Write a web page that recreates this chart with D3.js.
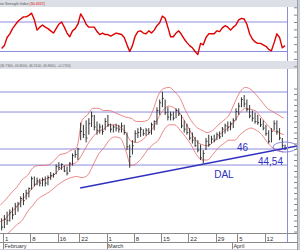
<!doctype html>
<html lang="en">
<head>
<meta charset="utf-8">
<title>DAL</title>
<script src="https://cdn.jsdelivr.net/npm/d3@7"></script>
<style>
  body { margin: 0; background: #fff; }
  svg { display: block; font-family: "Liberation Sans", Arial, sans-serif; }
</style>
</head>
<body>
<svg width="300" height="250" id="chart"></svg>
<script>
    // header texts
    const rsiTitle = "ive Strength Index";
    const rsiLast = "(30.4557)";
    const quoteText = "(46.7300, 46.8000, 46.3100, 46.8600, +0.1700)";

    // trading day index of each week / month start
    const weekTicks = [[0, "1"], [5, "8"], [10, "16"], [14, "22"], [19, "1"], [24, "8"],
        [29, "15"], [34, "22"], [39, "29"], [43, "5"], [48, "12"]];
    const monthTicks = [[0, "February"], [19, "March"], [42, "April"]];

    // half-day bars, first one is the last half of the previous day
    const rsiValues = [34, 38, 49, 54, 61, 66, 71, 74, 77, 77, 79, 82, 73, 59, 63, 66, 63, 61, 58, 55,
        61, 67, 70, 63, 55, 50, 58, 61, 67, 81, 75, 67, 63, 63, 63, 57, 53, 55, 53, 53,
        51, 53, 55, 54, 53, 49, 39, 30, 38, 51, 57, 58, 55, 54, 58, 55, 59, 65, 69, 78,
        75, 63, 50, 50, 55, 58, 53, 47, 42, 38, 35, 30, 26, 41, 39, 49, 54, 54, 54, 58,
        57, 62, 65, 63, 59, 63, 66, 73, 75, 74, 67, 54, 47, 43, 41, 41, 39, 37, 33, 31,
        42, 54, 49, 35, 38];

    // [high, low, close]
    const bars = [
        [39.7, 38.6, 38.9], [40.0, 38.8, 39.6], [40.3, 39.1, 39.5], [40.5, 39.4, 40.2], [40.7, 39.6, 40.0],
        [41.1, 40.0, 40.8], [41.2, 40.3, 41.0], [41.7, 40.7, 41.5], [42.0, 40.9, 41.3], [42.3, 41.4, 42.0],
        [42.5, 41.6, 42.4], [43.5, 42.3, 43.3], [43.5, 42.6, 42.8], [43.4, 42.7, 43.1], [43.3, 42.6, 42.9],
        [43.4, 42.6, 43.2], [43.5, 42.6, 42.9], [43.6, 42.7, 43.4], [43.9, 43.2, 43.6], [43.8, 43.4, 43.7],
        [44.6, 43.7, 44.4], [44.8, 44.1, 44.3], [44.7, 44.1, 44.6], [44.5, 43.9, 44.0], [44.4, 43.6, 43.8],
        [44.8, 43.9, 44.7], [45.6, 44.5, 45.4], [45.9, 45.2, 45.5], [46.1, 45.0, 46.0], [48.4, 46.8, 47.6],
        [48.2, 47.0, 47.3], [48.6, 46.6, 47.0], [48.8, 47.3, 48.3], [49.4, 48.0, 49.0], [49.1, 47.7, 48.0],
        [48.5, 47.3, 47.7], [48.3, 47.4, 48.0], [48.2, 47.3, 47.6], [48.8, 47.7, 48.5], [49.1, 48.0, 48.2],
        [48.3, 47.5, 47.8], [48.2, 47.5, 48.0], [48.3, 47.6, 47.9], [48.2, 47.5, 47.8], [48.4, 47.5, 48.1],
        [48.2, 47.3, 47.5], [47.5, 45.9, 46.2], [46.4, 44.3, 45.3], [46.8, 45.5, 46.3], [47.7, 46.6, 47.4],
        [47.9, 47.0, 47.5], [48.0, 47.1, 47.8], [47.8, 47.2, 47.4], [47.9, 47.2, 47.7], [47.9, 47.3, 47.5],
        [48.4, 47.3, 48.2], [48.6, 47.7, 48.5], [49.8, 48.2, 49.5], [50.5, 49.1, 50.2], [51.2, 49.8, 50.6],
        [50.5, 49.1, 49.3], [49.8, 48.6, 48.9], [49.4, 48.6, 49.1], [49.4, 48.6, 48.8], [49.7, 48.8, 49.5],
        [49.7, 49.0, 49.2], [49.1, 47.9, 48.1], [48.6, 47.5, 47.8], [48.3, 47.3, 47.5], [47.9, 46.8, 47.0],
        [47.5, 46.5, 46.8], [47.1, 46.2, 46.3], [46.8, 45.7, 45.9], [46.4, 45.0, 45.2], [45.9, 44.7, 45.6],
        [47.0, 45.9, 46.7], [47.3, 46.2, 46.4], [47.2, 46.5, 46.9], [47.3, 46.6, 46.8], [47.5, 46.8, 47.3],
        [47.6, 46.9, 47.1], [48.0, 47.1, 47.8], [48.3, 47.4, 48.1], [48.5, 47.6, 48.0], [48.5, 47.7, 48.3],
        [48.8, 47.9, 48.6], [49.7, 48.6, 49.4], [50.2, 49.1, 49.9], [50.7, 49.8, 50.5], [50.9, 49.8, 50.1],
        [50.5, 49.4, 49.6], [50.0, 48.8, 49.0], [49.5, 48.5, 48.8], [49.3, 48.3, 48.5], [49.1, 48.2, 48.4],
        [48.8, 48.0, 48.2], [48.6, 47.7, 47.9], [48.2, 47.2, 47.4], [47.7, 46.5, 46.7], [47.9, 46.6, 47.6],
        [48.6, 47.7, 48.3], [48.6, 47.3, 47.6], [47.9, 46.8, 47.0], [47.0, 46.1, 46.3], [46.4, 45.9, 46.1]
    ];

    // bollinger bands, one point per day (first = previous day)
    const bandUpper = [40.9, 41.4, 42.0, 42.5, 43.2, 43.6, 44.3, 44.5, 44.5, 44.6, 45.0, 45.5, 45.6, 45.9, 46.1,
        48.6, 49.1, 49.7, 49.7, 49.5, 49.5, 49.3, 49.1, 48.9, 48.8, 48.5, 48.5, 48.6, 49.5, 50.9,
        51.5, 51.6, 51.2, 50.6, 49.5, 48.6, 48.0, 47.7, 47.5, 47.7, 48.2, 48.6, 49.1, 50.2, 51.2,
        51.6, 51.4, 50.9, 50.3, 49.7, 49.4, 49.1, 48.8];
    const bandMiddle = [39.4, 39.7, 40.3, 40.7, 41.4, 41.9, 42.5, 43.0, 43.2, 43.4, 43.7, 44.2, 44.5, 44.6, 44.8,
        45.5, 46.4, 47.1, 47.6, 47.8, 48.2, 48.2, 48.0, 47.5, 46.7, 46.6, 46.8, 47.3, 47.9, 48.8,
        49.6, 49.9, 49.7, 49.2, 48.4, 47.5, 46.7, 46.4, 46.3, 46.6, 47.2, 47.6, 48.0, 48.5, 49.3,
        49.7, 49.6, 49.4, 48.8, 48.2, 47.7, 47.5, 47.3];
    const bandLower = [37.9, 38.2, 38.6, 39.1, 39.5, 40.3, 40.9, 41.5, 41.8, 42.1, 42.5, 42.9, 43.2, 43.4, 43.5,
        43.4, 43.6, 44.5, 45.5, 46.1, 46.8, 47.1, 47.0, 45.9, 44.5, 44.7, 45.2, 45.9, 46.4, 46.8,
        47.7, 48.2, 48.2, 47.7, 47.1, 46.4, 45.5, 45.0, 45.0, 45.5, 46.1, 46.5, 46.8, 46.8, 47.3,
        47.7, 47.9, 47.7, 47.3, 46.6, 46.1, 45.9, 45.7];

    const rsiLevels = [70, 30];
    const priceLevels = [51.18, 49.36, 46, 44.54];
    const stripTicks = d3.range(38.5, 52, 0.5);
    const rsiStripTicks = [10, 20, 30, 40, 50, 60, 70, 80, 90];
    // [half-day position, price]
    const trendLine = [[28.3, 42.45], [107.9, 46.27]];
    const lastMark = [103.5, 46.18];

    const svg = d3.select("#chart");
    const W = 300, H = 250;
    const plotRight = 287, stripRight = 297;
    const rsiTop = 7, rsiBottom = 61, priceTop = 69, priceBottom = 233;
    const gridColor = "#8c8cdc";
    const annColor = "#3030c0";

    // x in half-day units
    const x = d3.scaleLinear().domain([0, 104]).range([3, 286.4]);
    const yRsi = d3.scaleLinear().domain([30, 70]).range([51.5, 22]);
    const yPrice = d3.scaleLinear().domain([38, 52]).range([237, 83]);

    const defs = svg.append("defs");
    defs.append("clipPath").attr("id", "clipRsi").append("rect")
        .attr("x", 0).attr("y", rsiTop).attr("width", plotRight).attr("height", rsiBottom - rsiTop);
    defs.append("clipPath").attr("id", "clipPrice").append("rect")
        .attr("x", 0).attr("y", priceTop).attr("width", plotRight).attr("height", priceBottom - priceTop);
    defs.append("clipPath").attr("id", "clipPriceWide").append("rect")
        .attr("x", 0).attr("y", priceTop).attr("width", stripRight).attr("height", priceBottom - priceTop);

    // background and gray strips
    svg.append("rect").attr("width", W).attr("height", H).attr("fill", "#fff");
    svg.append("rect").attr("x", 0).attr("y", 0).attr("width", W).attr("height", rsiTop).attr("fill", "#dcdfe5");
    svg.append("rect").attr("x", 0).attr("y", rsiBottom).attr("width", W).attr("height", priceTop - rsiBottom).attr("fill", "#dcdfe5");
    svg.append("rect").attr("x", 0).attr("y", 249).attr("width", W).attr("height", 1).attr("fill", "#c9cdd4");
    svg.append("rect").attr("x", stripRight).attr("y", 0).attr("width", W - stripRight).attr("height", H).attr("fill", "#c9cdd4");
    svg.append("line").attr("x1", stripRight + 0.5).attr("x2", stripRight + 0.5).attr("y1", 0).attr("y2", H)
        .attr("stroke", "#9a9ea6").attr("stroke-width", 1);

    svg.append("text").attr("x", -0.5).attr("y", 5).style("font-size", "3.6px").attr("fill", "#555")
        .text(rsiTitle)
        .append("tspan").attr("fill", "#d00").text(" " + rsiLast);
    svg.append("text").attr("x", -0.5).attr("y", 66.5).style("font-size", "3.4px").attr("fill", "#666")
        .text(quoteText);

    // RSI panel
    const gRsi = svg.append("g").attr("clip-path", "url(#clipRsi)");
    gRsi.selectAll(".rsiLevel").data(rsiLevels).enter().append("line")
        .attr("x1", 0).attr("x2", plotRight)
        .attr("y1", d => yRsi(d)).attr("y2", d => yRsi(d))
        .attr("stroke", gridColor).attr("stroke-width", 1);
    gRsi.append("path")
        .datum(rsiValues)
        .attr("fill", "none")
        .attr("stroke", "#e00000")
        .attr("stroke-width", 1.4)
        .attr("stroke-linejoin", "round")
        .attr("d", d3.line().x((d, i) => x(i - 0.5)).y(d => yRsi(d)));

    // price panel
    const gPrice = svg.append("g").attr("clip-path", "url(#clipPrice)");
    gPrice.selectAll(".priceLevel").data(priceLevels).enter().append("line")
        .attr("x1", 0).attr("x2", plotRight)
        .attr("y1", d => yPrice(d)).attr("y2", d => yPrice(d))
        .attr("stroke", gridColor).attr("stroke-width", 1);

    const bandLine = d3.line().x((d, i) => x(2 * i - 1)).y(d => yPrice(d)).curve(d3.curveMonotoneX);
    [bandUpper, bandMiddle, bandLower].forEach(band => {
        gPrice.append("path")
            .datum(band)
            .attr("fill", "none")
            .attr("stroke", "#e46a6a")
            .attr("stroke-width", 0.8)
            .attr("d", bandLine);
    });

    const bar = gPrice.selectAll(".bar").data(bars).enter().append("g");
    bar.append("line")
        .attr("x1", (d, i) => x(i - 0.5)).attr("x2", (d, i) => x(i - 0.5))
        .attr("y1", d => yPrice(d[0])).attr("y2", d => yPrice(d[1]))
        .attr("stroke", "#1c1c1c").attr("stroke-width", 0.9);
    bar.append("line")
        .attr("x1", (d, i) => x(i - 0.5)).attr("x2", (d, i) => x(i - 0.5) + 1.4)
        .attr("y1", d => yPrice(d[2])).attr("y2", d => yPrice(d[2]))
        .attr("stroke", "#1c1c1c").attr("stroke-width", 0.8);

    // annotations
    const gAnn = svg.append("g").attr("clip-path", "url(#clipPriceWide)");
    gAnn.append("path")
        .datum(trendLine)
        .attr("fill", "none")
        .attr("stroke", annColor)
        .attr("stroke-width", 1.5)
        .attr("d", d3.line().x(d => x(d[0])).y(d => yPrice(d[1])));
    gAnn.append("ellipse")
        .attr("cx", x(lastMark[0])).attr("cy", yPrice(lastMark[1]))
        .attr("rx", 12).attr("ry", 5)
        .attr("fill", "none").attr("stroke", "#6a6ad8").attr("stroke-width", 0.8);

    svg.append("text").attr("x", x(85.9)).attr("y", yPrice(46) + 1.5)
        .style("font-size", "10px").attr("fill", annColor).text("46");
    svg.append("text").attr("x", plotRight - 4).attr("y", yPrice(44.54))
        .attr("text-anchor", "end")
        .style("font-size", "10px").attr("fill", annColor).text("44,54");
    svg.append("text").attr("x", x(77.5)).attr("y", yPrice(44.54) + 13)
        .style("font-size", "10px").attr("fill", annColor).text("DAL");

    // right strip ticks
    svg.append("g")
        .attr("transform", "translate(" + stripRight + ",0)")
        .call(d3.axisLeft(yPrice).tickValues(stripTicks).tickSize(3).tickFormat(""))
        .call(g => g.select(".domain").remove())
        .call(g => g.selectAll("line").attr("stroke", "#888"));
    svg.append("g")
        .attr("transform", "translate(" + stripRight + ",0)")
        .call(d3.axisLeft(yRsi).tickValues(rsiStripTicks).tickSize(3).tickFormat(""))
        .call(g => g.select(".domain").remove())
        .call(g => g.selectAll("line").attr("stroke", "#888"));

    // vertical cursor line
    svg.append("line").attr("x1", plotRight + 0.5).attr("x2", plotRight + 0.5)
        .attr("y1", rsiTop).attr("y2", rsiBottom)
        .attr("stroke", gridColor).attr("stroke-width", 1);
    svg.append("line").attr("x1", plotRight + 0.5).attr("x2", plotRight + 0.5)
        .attr("y1", priceTop).attr("y2", 242)
        .attr("stroke", gridColor).attr("stroke-width", 1);

    // date axis
    const gAxis = svg.append("g");
    [233.5, 242.5].forEach(yy => {
        gAxis.append("line").attr("x1", 0).attr("x2", stripRight).attr("y1", yy).attr("y2", yy)
            .attr("stroke", "#8a8a8a").attr("stroke-width", 1);
    });
    gAxis.selectAll(".week").data(weekTicks).enter().append("line")
        .attr("x1", d => Math.round(x(2 * d[0])) + 0.5).attr("x2", d => Math.round(x(2 * d[0])) + 0.5)
        .attr("y1", 233.5).attr("y2", 242.5)
        .attr("stroke", "#8a8a8a").attr("stroke-width", 1);
    gAxis.selectAll(".weekLabel").data(weekTicks).enter().append("text")
        .attr("x", d => x(2 * d[0]) + 2).attr("y", 240.5)
        .style("font-size", "6px").attr("fill", "#333")
        .text(d => d[1]);
    gAxis.selectAll(".month").data(monthTicks).enter().append("line")
        .attr("x1", d => Math.round(x(2 * d[0])) + 0.5).attr("x2", d => Math.round(x(2 * d[0])) + 0.5)
        .attr("y1", 242.5).attr("y2", 249)
        .attr("stroke", "#8a8a8a").attr("stroke-width", 1);
    gAxis.selectAll(".monthLabel").data(monthTicks).enter().append("text")
        .attr("x", d => x(2 * d[0]) + 1.5).attr("y", 247.8)
        .style("font-size", "5.5px").attr("fill", "#333")
        .text(d => d[1]);
</script>
</body>
</html>
